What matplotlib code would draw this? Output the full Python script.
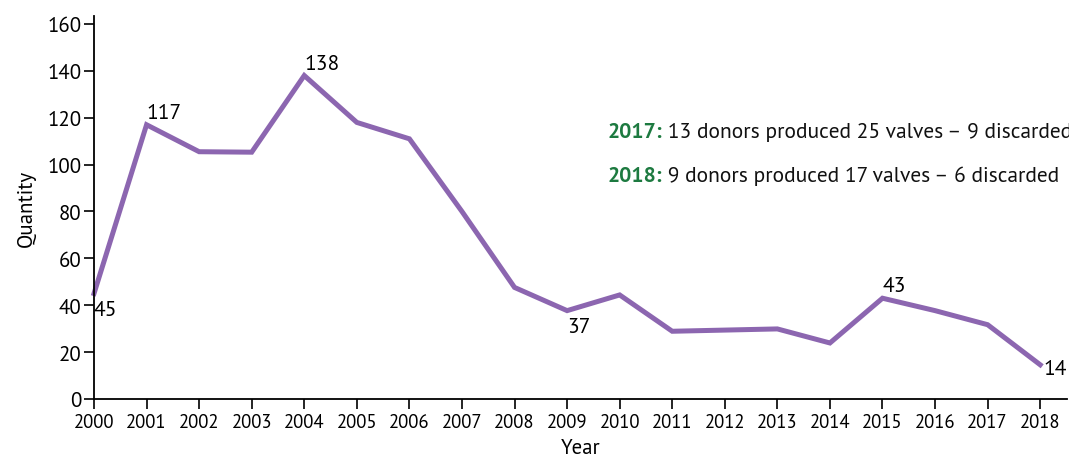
import matplotlib
matplotlib.use("Agg")
import matplotlib.pyplot as plt
from matplotlib import font_manager as fm

years = list(range(2000, 2019))
quantity = [45, 117, 105.5, 105.3, 138, 118, 111, 80, 47.6, 37.7, 44.4, 28.9, 29.4, 29.9, 23.9, 43, 37.7, 31.7, 14.6]
labels = {2000: "45", 2001: "117", 2004: "138", 2009: "37", 2015: "43", 2018: "14"}
notes = [("2017:", " 13 donors produced 25 valves \u2013 9 discarded"),
         ("2018:", " 9 donors produced 17 valves \u2013 6 discarded")]

regular = {f.name for f in fm.fontManager.ttflist if f.weight in (400, 'normal') and f.style == 'normal'}
fam = next((f for f in ["PT Sans", "PT Sans Narrow", "Asap Condensed"] if f in regular), "DejaVu Sans")
plt.rcParams['font.family'] = [fam, 'DejaVu Sans']
plt.rcParams['font.weight'] = 'normal'

fig = plt.figure(figsize=(10.69, 4.64), dpi=100)
ax = fig.add_axes([94/1069, 1-400/464, (1067-94)/1069, (400-17)/464])
ax.plot(years, quantity, color="#8c66b0", lw=3.6, solid_joinstyle="miter", clip_on=False)
ax.set_xlim(2000, 2018.51)
ax.set_ylim(0, 163.4)
ax.set_xticks(years)
ax.set_yticks(range(0, 161, 20))
ax.tick_params(axis='y', labelsize=15, length=7, width=1.2, direction='out', pad=2)
ax.tick_params(axis='x', labelsize=13.5, length=7, width=1.2, direction='out', pad=3)
for s in ['top', 'right']:
    ax.spines[s].set_visible(False)
for s in ['left', 'bottom']:
    ax.spines[s].set_linewidth(1.3)
ax.set_ylabel("Quantity", fontsize=15, labelpad=8)
ax.set_xlabel("Year", fontsize=15, labelpad=5)

offsets = {2000: (0, -11.5, 'center'), 2001: (0, 2, 'bottom'), 2004: (0, 2, 'bottom'),
           2009: (0, -11.5, 'center'), 2015: (0, 2, 'bottom'), 2018: (2, -3, 'center')}
for yr, txt in labels.items():
    i = years.index(yr)
    dx, dy, va = offsets[yr]
    ax.annotate(txt, (yr, quantity[i]), xytext=(dx, dy), textcoords='offset points',
                fontsize=15.5, ha='left', va=va, clip_on=False)

ty = [114, 95.5]
for (yr, rest), y in zip(notes, ty):
    t = ax.text(2009.76, y, yr, fontsize=15.5, color="#1d7a40", fontweight='bold', va='center')
    fig.canvas.draw()
    bb = t.get_window_extent()
    x_end = ax.transData.inverted().transform((bb.x1, bb.y0))[0]
    ax.text(x_end, y, rest, fontsize=15.5, color="#111111", va='center')

fig.savefig("out.png", dpi=100)
